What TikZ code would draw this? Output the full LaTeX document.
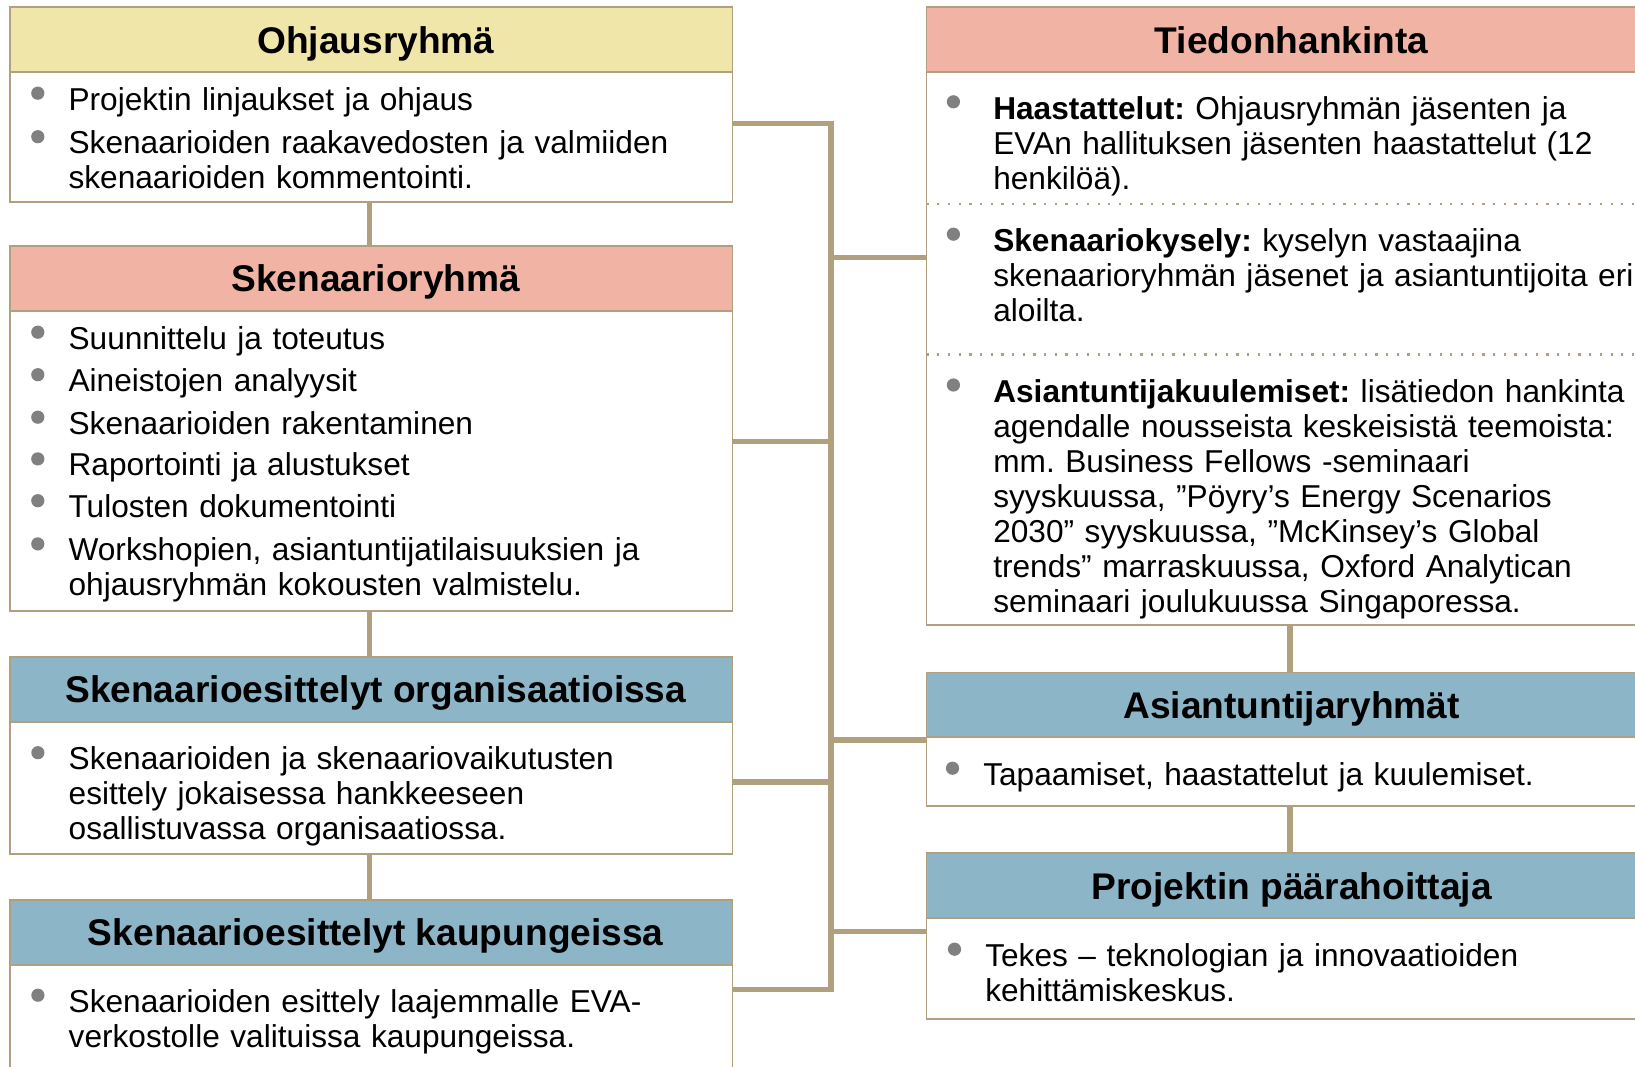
\documentclass[tikz,border=0pt]{standalone}
\usepackage{fontspec}
\setmainfont{Liberation Sans}
\usepackage{tikz}
\usetikzlibrary{positioning}

\definecolor{linetan}{HTML}{B0A07D}
\definecolor{hdryellow}{HTML}{F1E6A9}
\definecolor{hdrsalmon}{HTML}{F1B4A4}
\definecolor{hdrblue}{HTML}{8DB5C8}
\definecolor{dotgray}{HTML}{808080}

\tikzset{
  hdr/.style={draw=linetan, line width=1.4pt, inner sep=0pt, outer sep=0pt,
    minimum height=1.62cm, text height=19pt, text depth=0pt,
    font=\fontsize{26.4}{30}\selectfont\bfseries},
  lbox/.style={minimum width=18.05cm},
  lhdr/.style={hdr, lbox, execute at begin node=\hspace*{0.22cm}},
  rbox/.style={minimum width=18.25cm},
  bodybox/.style={draw=linetan, line width=1.4pt, fill=white, inner sep=0pt, outer sep=0pt},
  itm/.style={anchor=base west, inner sep=0pt, text width=17.5cm, align=left,
    font=\fontsize{22.5}{24.9}\selectfont\frenchspacing},
  conn/.style={draw=linetan, line width=3.9pt},
  sepline/.style={draw=linetan, line width=1.6pt, dash pattern=on 1.6pt off 6pt}
}

\begin{document}
\begin{tikzpicture}[x=0.025cm, y=-0.025cm]
\useasboundingbox (0,0) rectangle (1635,1066);

% Left column
\node[lhdr, fill=hdryellow, anchor=north west] (ohjh) at (10.3,7.3) {Ohjausryhmä};
\node[bodybox, lbox, minimum height=3.24cm, below=0pt of ohjh] (ohjb) {};

\node[lhdr, fill=hdrsalmon, anchor=north west] (skenh) at (10.3,246) {Skenaarioryhmä};
\node[bodybox, lbox, minimum height=7.5cm, below=0pt of skenh] (skenb) {};

\node[lhdr, fill=hdrblue, anchor=north west] (orgh) at (10.3,656.7) {Skenaarioesittelyt organisaatioissa};
\node[bodybox, lbox, minimum height=3.31cm, below=0pt of orgh] (orgb) {};

\node[lhdr, fill=hdrblue, anchor=north west] (kauph) at (10.3,900) {Skenaarioesittelyt kaupungeissa};
\node[bodybox, lbox, minimum height=4cm, below=0pt of kauph] (kaupb) {};

% Right column
\node[hdr, rbox, fill=hdrsalmon, anchor=north west] (tiedh) at (926.5,7.3) {Tiedonhankinta};
\node[bodybox, rbox, minimum height=13.81cm, below=0pt of tiedh] (tiedb) {};

\node[hdr, rbox, fill=hdrblue, anchor=north west] (asih) at (926.5,672.5) {Asiantuntijaryhmät};
\node[bodybox, rbox, minimum height=1.71cm, below=0pt of asih] (asib) {};

\node[hdr, rbox, fill=hdrblue, anchor=north west] (projh) at (926.5,853.3) {Projektin päärahoittaja};
\node[bodybox, rbox, minimum height=2.51cm, below=0pt of projh] (projb) {};

% Separators
\coordinate (sepa) at (926.5,204);
\coordinate (sepb) at (926.5,354.5);
\draw[sepline] (sepa) -- (sepa -| tiedb.east);
\draw[sepline] (sepb) -- (sepb -| tiedb.east);

% Items
\node[itm] (ohj1) at (68.3,110) {Projektin linjaukset ja ohjaus};
\node[itm] (ohj2) at (68.3,153.5) {Skenaarioiden raakavedosten ja valmiiden\\skenaarioiden kommentointi.};

\node[itm] (sken1) at (68.3,349) {Suunnittelu ja toteutus};
\node[itm] (sken2) at (68.3,391.5) {Aineistojen analyysit};
\node[itm] (sken3) at (68.3,434) {Skenaarioiden rakentaminen};
\node[itm] (sken4) at (68.3,475.7) {Raportointi ja alustukset};
\node[itm] (sken5) at (68.3,517.5) {Tulosten dokumentointi};
\node[itm] (sken6) at (68.3,560.7) {Workshopien, asiantuntijatilaisuuksien ja\\ohjausryhmän kokousten valmistelu.};

\node[itm] (org1) at (68.4,769.5) {Skenaarioiden ja skenaariovaikutusten\\esittely jokaisessa hankkeeseen\\osallistuvassa organisaatiossa.};

\node[itm] (kaup1) at (68.4,1012) {Skenaarioiden esittely laajemmalle EVA-\\verkostolle valituissa kaupungeissa.};

\node[itm] (tied1) at (993,119.3) {\textbf{Haastattelut:} Ohjausryhmän jäsenten ja\\EVAn hallituksen jäsenten haastattelut (12\\henkilöä).};
\node[itm] (tied2) at (993,251.7) {\textbf{Skenaariokysely:} kyselyn vastaajina\\skenaarioryhmän jäsenet ja asiantuntijoita eri\\aloilta.};
\node[itm] (tied3) at (993,402.5) {\textbf{Asiantuntijakuulemiset:} lisätiedon hankinta\\agendalle nousseista keskeisistä teemoista:\\mm. Business Fellows -seminaari\\syyskuussa, ”Pöyry’s Energy Scenarios\\2030” syyskuussa, ”McKinsey’s Global\\trends” marraskuussa, Oxford Analytican\\seminaari joulukuussa Singaporessa.};

\node[itm] (asi1) at (983,785) {Tapaamiset, haastattelut ja kuulemiset.};

\node[itm] (proj1) at (985,966) {Tekes – teknologian ja innovaatioiden\\kehittämiskeskus.};

% Bullets
\foreach \n in {ohj1,ohj2,sken1,sken2,sken3,sken4,sken5,sken6,org1,kaup1,asi1,proj1}
  \fill[dotgray] (\n.base west) ++(-30.5,-16.8) circle[radius=0.165cm];
\foreach \n in {tied1,tied2,tied3}
  \fill[dotgray] (\n.base west) ++(-39.6,-17.5) circle[radius=0.165cm];

% Connectors
\coordinate (cl) at (369.3,0);
\coordinate (cr) at (1290,0);
\draw[conn] (ohjb.south -| cl) -- (skenh.north -| cl);
\draw[conn] (skenb.south -| cl) -- (orgh.north -| cl);
\draw[conn] (orgb.south -| cl) -- (kauph.north -| cl);
\draw[conn] (tiedb.south -| cr) -- (asih.north -| cr);
\draw[conn] (asib.south -| cr) -- (projh.north -| cr);

\coordinate (jo) at (831,123.3);
\coordinate (js) at (831,441.7);
\coordinate (jg) at (831,782);
\coordinate (jk) at (831,989.3);
\coordinate (jt) at (831,257.3);
\coordinate (ja) at (831,740);
\coordinate (jp) at (831,931.7);

\draw[conn] (ohjb.east |- jo) -- (jo) -- (jk) -- (kaupb.east |- jk);
\draw[conn] (skenb.east |- js) -- (js);
\draw[conn] (orgb.east |- jg) -- (jg);
\draw[conn] (jt) -- (tiedb.west |- jt);
\draw[conn] (ja) -- (asib.west |- ja);
\draw[conn] (jp) -- (projb.west |- jp);

\end{tikzpicture}
\end{document}
